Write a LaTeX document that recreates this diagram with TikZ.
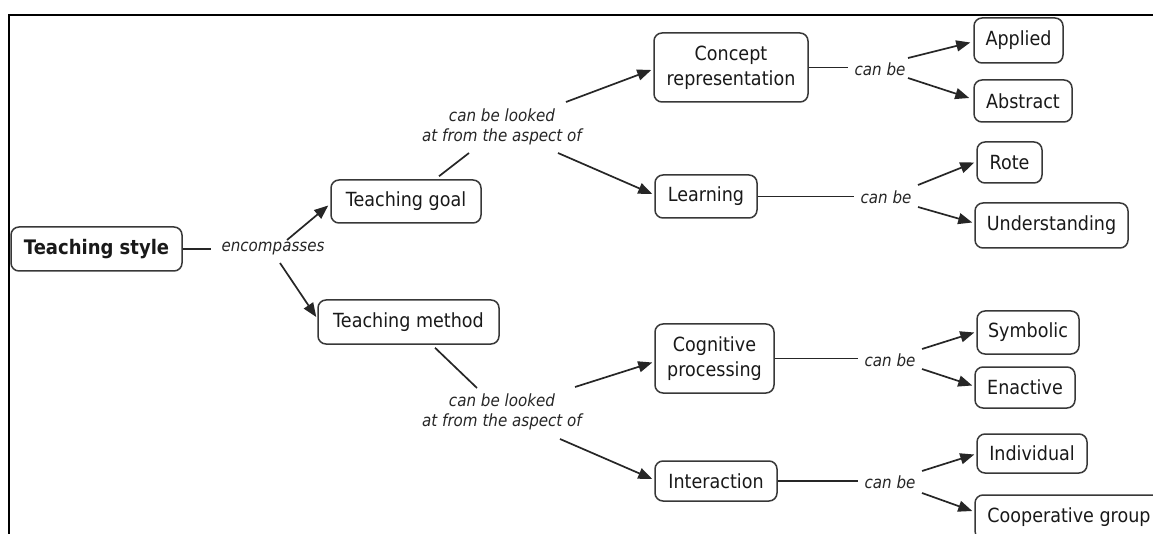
\documentclass[tikz,border=0pt]{standalone}
\usepackage{fontspec}
\setmainfont{DejaVu Sans}[FakeStretch=0.9]
\usetikzlibrary{arrows.meta,calc}
\begin{document}
\begin{tikzpicture}[x=1pt,y=-1pt,
  box/.style={draw=black!78, line width=1.5pt, rounded corners=8pt, inner sep=0pt,
    font=\fontsize{19.5}{25}\selectfont, align=center, text=black!90},
  lbl/.style={font=\fontsize{16.8}{20.5}\selectfont\itshape, align=center, inner sep=0pt, text=black!85},
  con/.style={line width=1.7pt, draw=black!85},
  arr/.style={con, -{Triangle[length=14pt,width=11pt]}}]
\useasboundingbox (0,0) rectangle (1153,534);
\clip (0,0) rectangle (1153,534);
\fill[white] (0,0) rectangle (1153,534);
% frame
\draw[line width=2pt] (9,534) -- (9,15) -- (1153,15);
% concept nodes
\node[box, minimum width=171pt, minimum height=44pt, font=\fontsize{20}{25}\selectfont\bfseries] (style) at (96.5,249) {Teaching style};
\node[box, minimum width=150pt, minimum height=43pt] (goal) at (406,201.5) {Teaching goal};
\node[box, minimum width=181pt, minimum height=44pt] (method) at (408.5,322) {Teaching method};
\node[box, minimum width=154pt, minimum height=69pt] (concept) at (731,67.5) {Concept\\representation};
\node[box, minimum width=102pt, minimum height=43pt] (learning) at (706,196.5) {Learning};
\node[box, minimum width=119pt, minimum height=69pt] (cognitive) at (714.5,358.5) {Cognitive\\processing};
\node[box, minimum width=122pt, minimum height=40pt] (interaction) at (716,481) {Interaction};
\node[box, minimum width=89pt, minimum height=45pt] (applied) at (1018.5,40.5) {Applied};
\node[box, minimum width=98pt, minimum height=42pt] (abstract) at (1023,101) {Abstract};
\node[box, minimum width=65pt, minimum height=41pt] (rote) at (1009.5,162.5) {Rote};
\node[box, minimum width=153pt, minimum height=45pt] (understanding) at (1051.5,225.5) {Understanding};
\node[box, minimum width=102pt, minimum height=43pt] (symbolic) at (1028,332.5) {Symbolic};
\node[box, minimum width=100pt, minimum height=41pt] (enactive) at (1025,387.5) {Enactive};
\node[box, minimum width=110pt, minimum height=39pt] (individual) at (1032,453.5) {Individual};
\node[box, minimum width=188pt, minimum height=44pt] (coop) at (1069,517) {Cooperative group};
% linking phrases
\node[lbl] (enc) at (273,249) {encompasses};
\node[lbl] (asp1) at (502,127) {can be looked\\at from the aspect of};
\node[lbl] (asp2) at (502,412) {can be looked\\at from the aspect of};
\node[lbl] (cb1) at (880,69) {can be};
\node[lbl] (cb2) at (886,197) {can be};
\node[lbl] (cb3) at (890,360) {can be};
\node[lbl] (cb4) at (890,482) {can be};
% connectors
\draw[con, shorten >=10pt] (style.east) -- (style.east -| enc.west);
\draw[arr] ($(enc.center)+(14,-9)$) -- ($(goal.west)+(-2,4)$);
\draw[arr] ($(enc.center)+(7,14)$) -- ($(method.west)+(-1,-5)$);
\draw[con] ($(goal.north)+(33,-3)$) -- ($(asp1.center)+(-33,26)$);
\draw[arr] ($(asp1.center)+(64,-25)$) -- ($(concept.west)+(-2,2.5)$);
\draw[arr] ($(asp1.center)+(56,26)$) -- ($(learning.west)+(-2,-2.5)$);
\draw[con] ($(method.south)+(26.5,3)$) -- ($(asp2.center)+(-25,-24)$);
\draw[arr] ($(asp2.center)+(73,-25)$) -- ($(cognitive.west)+(-2,4)$);
\draw[arr] ($(asp2.center)+(58,27)$) -- ($(interaction.west)+(-2,-2)$);
\draw[con, shorten >=6pt] (concept.east) -- (concept.east -| cb1.west);
\draw[arr] ($(cb1.center)+(28,-11)$) -- ($(applied.west)+(-3,2)$);
\draw[arr] ($(cb1.center)+(28,9)$) -- ($(abstract.west)+(-4,-3)$);
\draw[con, shorten >=6pt] (learning.east) -- (learning.east -| cb2.west);
\draw[arr] ($(cb2.center)+(32,-12)$) -- ($(rote.west)+(-2,0)$);
\draw[arr] ($(cb2.center)+(32,10)$) -- ($(understanding.west)+(-2,-3)$);
\draw[con, shorten >=6pt] (cognitive.east) -- (cognitive.east -| cb3.west);
\draw[arr] ($(cb3.center)+(32,-11)$) -- ($(symbolic.west)+(-2,0)$);
\draw[arr] ($(cb3.center)+(32,9)$) -- ($(enactive.west)+(-2,-2)$);
\draw[con, shorten >=6pt] (interaction.east) -- (interaction.east -| cb4.west);
\draw[arr] ($(cb4.center)+(32,-11)$) -- ($(individual.west)+(-2,1)$);
\draw[arr] ($(cb4.center)+(32,11)$) -- ($(coop.west)+(-2,-6)$);
\end{tikzpicture}
\end{document}
